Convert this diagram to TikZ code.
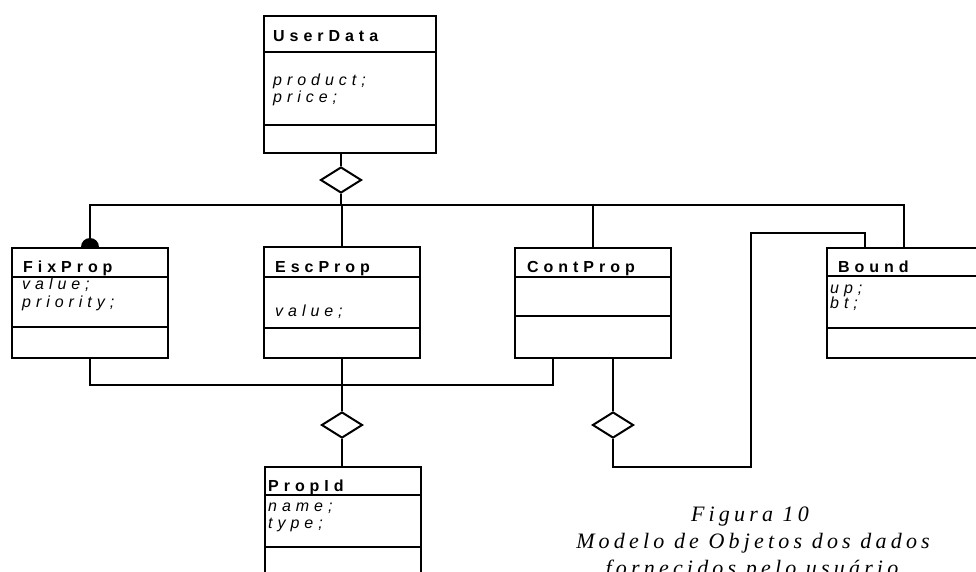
\documentclass[tikz,border=0pt]{standalone}
\usepackage{fontspec}
\usetikzlibrary{shapes.geometric}
\newfontfamily\umlfont[LetterSpace=31]{Liberation Sans}
\newfontfamily\capfont[LetterSpace=19]{Liberation Serif}
\tikzstyle{classbox} = [rectangle, draw=black, fill=white, line width=2pt, inner sep=0pt, anchor=north west]
\tikzstyle{classname} = [inner sep=0pt, anchor=base west, font=\umlfont\bfseries\fontsize{16}{18}\selectfont]
\tikzstyle{attr} = [inner sep=0pt, anchor=base west, font=\umlfont\itshape\fontsize{16}{18}\selectfont]
\tikzstyle{agg} = [diamond, draw=black, fill=white, line width=2pt, inner sep=0pt, minimum width=41pt, minimum height=26pt]
\tikzstyle{conn} = [draw=black, line width=2pt]
\tikzstyle{caption} = [inner sep=0pt, anchor=base, font=\capfont\itshape\fontsize{22}{27}\selectfont]

\begin{document}
\begin{tikzpicture}[x=1pt, y=-1pt]
        \useasboundingbox (0,0) rectangle (976,572);

        % classes
        \node (userdata) [classbox, minimum width=172pt, minimum height=137pt] at (263,15) {};
        \draw [conn] ([yshift=-37pt]userdata.north west) -- ([yshift=-37pt]userdata.north east);
        \draw [conn] ([yshift=-110pt]userdata.north west) -- ([yshift=-110pt]userdata.north east);
        \node (userdataname) [classname] at (273,42) {UserData};
        \node (product) [attr] at (273,86) {product;};
        \node (price) [attr] at (273,103) {price;};

        \node (fixprop) [classbox, minimum width=156pt, minimum height=110pt] at (11,247) {};
        \draw [conn] ([yshift=-30pt]fixprop.north west) -- ([yshift=-30pt]fixprop.north east);
        \draw [conn] ([yshift=-80pt]fixprop.north west) -- ([yshift=-80pt]fixprop.north east);
        \node (fixpropname) [classname] at (23,272) {FixProp};
        \node (fixvalue) [attr] at (22,289) {value;};
        \node (priority) [attr] at (22,307) {priority;};

        \node (escprop) [classbox, minimum width=156pt, minimum height=111pt] at (263,246) {};
        \draw [conn] ([yshift=-31pt]escprop.north west) -- ([yshift=-31pt]escprop.north east);
        \draw [conn] ([yshift=-82pt]escprop.north west) -- ([yshift=-82pt]escprop.north east);
        \node (escpropname) [classname] at (275,272) {EscProp};
        \node (escvalue) [attr] at (275,316) {value;};

        \node (contprop) [classbox, minimum width=156pt, minimum height=110pt] at (514,247) {};
        \draw [conn] ([yshift=-30pt]contprop.north west) -- ([yshift=-30pt]contprop.north east);
        \draw [conn] ([yshift=-69pt]contprop.north west) -- ([yshift=-69pt]contprop.north east);
        \node (contpropname) [classname] at (527,272) {ContProp};

        \node (bound) [classbox, minimum width=154pt, minimum height=110pt] at (826,247) {};
        \draw [conn] ([yshift=-29pt]bound.north west) -- ([yshift=-29pt]bound.north east);
        \draw [conn] ([yshift=-81pt]bound.north west) -- ([yshift=-81pt]bound.north east);
        \node (boundname) [classname] at (838,272) {Bound};
        \node (up) [attr] at (830,293) {up;};
        \node (bt) [attr] at (830,308) {bt;};

        \node (propid) [classbox, minimum width=156pt, minimum height=154pt] at (264,466) {};
        \draw [conn] ([yshift=-29pt]propid.north west) -- ([yshift=-29pt]propid.north east);
        \draw [conn] ([yshift=-81pt]propid.north west) -- ([yshift=-81pt]propid.north east);
        \node (propidname) [classname] at (268,491) {PropId};
        \node (name) [attr] at (268,511) {name;};
        \node (type) [attr] at (268,528) {type;};

        % aggregations
        \node (agg1) [agg] at (341,180) {};
        \node (agg2) [agg] at (342,425) {};
        \node (agg3) [agg] at (613,425) {};

        \coordinate (busl) at (90,205);
        \coordinate (loopb) at (751,467);
        \coordinate (loopt) at (751,233);

        \draw [conn] (agg1.north) -- (agg1.north |- userdata.south);
        \draw [conn] (agg1.south) -- (agg1.south |- busl);
        \draw [conn] (fixprop.north) -- (fixprop.north |- busl) -| (bound.north);
        \draw [conn] (escprop.north) -- (escprop.north |- busl);
        \draw [conn] (contprop.north) -- (contprop.north |- busl);
        \fill (fixprop.north) ++(-9pt,0) arc[start angle=180, end angle=0, radius=9pt];

        \draw [conn] (fixprop.south) -- ++(0,26) -| ([xshift=-40pt]contprop.south);
        \draw [conn] (agg2.north) -- (agg2.north |- escprop.south);
        \draw [conn] (agg2.south) -- (agg2.south |- propid.north);

        \draw [conn] (agg3.north) -- (agg3.north |- contprop.south);
        \draw [conn] (agg3.south) |- (loopb) -- (loopt) -| ([xshift=-39pt]bound.north);

        % caption
        \node (figno) [caption] at (750,521) {Figura 10};
        \node (figtext) [caption] at (753,548) {Modelo de Objetos dos dados};
        \node (figtextb) [caption] at (752,575) {fornecidos pelo usuário};
    \end{tikzpicture}
\end{document}
